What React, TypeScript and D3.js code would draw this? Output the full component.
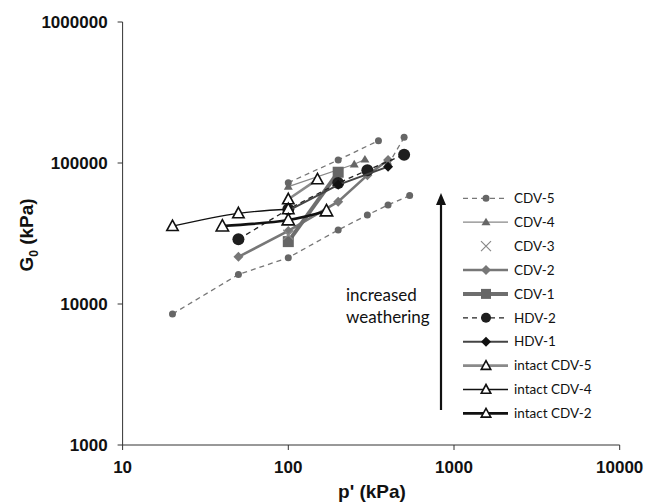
import React from "react";
import * as d3 from "d3";

// ---------- data (p' kPa, G0 kPa) ----------
const cdv5a: [number, number][] = [[20, 8500], [50, 16200], [100, 21300], [200, 33500], [300, 42800], [400, 50400], [540, 58700]];
const cdv5b: [number, number][] = [[100, 72500], [200, 105000], [350, 144000]];
const cdv5c: [number, number][] = [[400, 97000], [500, 152000]];
const cdv4: [number, number][] = [[100, 68000], [250, 98000], [290, 106000]];
const cdv3: [number, number][] = [[100, 31000]];
const cdv2: [number, number][] = [[50, 21600], [100, 33000], [200, 53200], [300, 82000], [400, 105000]];
const cdv1: [number, number][] = [[100, 27700], [200, 86000]];
const hdv2: [number, number][] = [[50, 28800], [100, 47000], [200, 72000], [300, 89000], [500, 114500]];
const hdv1: [number, number][] = [[100, 46000], [200, 70000], [400, 94200]];
const intactCdv5: [number, number][] = [[100, 55300], [150, 76600]];
const intactCdv4: [number, number][] = [[20, 35700], [50, 44000], [100, 47000]];
const intactCdv2: [number, number][] = [[40, 35700], [100, 39400], [170, 45700]];

const xTicks = [10, 100, 1000, 10000];
const yTicks = [1000, 10000, 100000, 1000000];
const legendLabels = ["CDV-5", "CDV-4", "CDV-3", "CDV-2", "CDV-1", "HDV-2", "HDV-1", "intact CDV-5", "intact CDV-4", "intact CDV-2"];

type Style = {
  stroke: string; width: number; dash?: string; marker: string; mfill: string; mstroke?: string; msize: number; smooth?: boolean; noLine?: boolean;
};

const styles: Record<string, Style> = {
  "CDV-5": { stroke: "#777", width: 1.3, dash: "5,4", marker: "circle", mfill: "#666", msize: 3.5 },
  "CDV-4": { stroke: "#888", width: 1.2, marker: "triangle", mfill: "#666", msize: 4.5 },
  "CDV-3": { stroke: "none", width: 0, marker: "x", mfill: "none", mstroke: "#888", msize: 5, noLine: true },
  "CDV-2": { stroke: "#777", width: 2.6, marker: "diamond", mfill: "#777", msize: 5 },
  "CDV-1": { stroke: "#6e6e6e", width: 4, marker: "square", mfill: "#666", msize: 5.5 },
  "HDV-2": { stroke: "#222", width: 1.3, dash: "5,4", marker: "circle", mfill: "#1e1e1e", msize: 6 },
  "HDV-1": { stroke: "#444", width: 2, marker: "diamond", mfill: "#111", msize: 5 },
  "intact CDV-5": { stroke: "#8a8a8a", width: 2.6, marker: "otri", mfill: "#fff", mstroke: "#111", msize: 6, smooth: true },
  "intact CDV-4": { stroke: "#111", width: 1.3, marker: "otri", mfill: "#fff", mstroke: "#111", msize: 6, smooth: true },
  "intact CDV-2": { stroke: "#111", width: 2.6, marker: "otri", mfill: "#fff", mstroke: "#111", msize: 6.5, smooth: true },
};

const seriesList: { name: string; data: [number, number][] }[] = [
  { name: "CDV-5", data: cdv5a },
  { name: "CDV-5", data: cdv5b },
  { name: "CDV-5", data: cdv5c },
  { name: "CDV-4", data: cdv4 },
  { name: "CDV-3", data: cdv3 },
  { name: "CDV-2", data: cdv2 },
  { name: "CDV-1", data: cdv1 },
  { name: "HDV-2", data: hdv2 },
  { name: "HDV-1", data: hdv1 },
  { name: "intact CDV-5", data: intactCdv5 },
  { name: "intact CDV-4", data: intactCdv4 },
  { name: "intact CDV-2", data: intactCdv2 },
];

const W = 648, H = 504;
const x = d3.scaleLog().domain([10, 10000]).range([122.6, 619.7]);
const y = d3.scaleLog().domain([1000, 1000000]).range([445, 22]);

function Marker({ kind, cx, cy, s }: { kind: string; cx: number; cy: number; s: Style }) {
  const r = s.msize;
  if (kind === "circle") return <circle cx={cx} cy={cy} r={r} fill={s.mfill} />;
  if (kind === "square") return <rect x={cx - r} y={cy - r} width={2 * r} height={2 * r} fill={s.mfill} />;
  if (kind === "diamond")
    return <path d={`M${cx},${cy - r}L${cx + r},${cy}L${cx},${cy + r}L${cx - r},${cy}Z`} fill={s.mfill} />;
  if (kind === "triangle")
    return <path d={`M${cx},${cy - r}L${cx + r},${cy + r * 0.7}L${cx - r},${cy + r * 0.7}Z`} fill={s.mfill} />;
  if (kind === "otri")
    return (
      <path
        d={`M${cx},${cy - r}L${cx + r * 0.95},${cy + r * 0.75}L${cx - r * 0.95},${cy + r * 0.75}Z`}
        fill={s.mfill}
        stroke={s.mstroke}
        strokeWidth={1.6}
        strokeLinejoin="miter"
      />
    );
  if (kind === "x")
    return (
      <path
        d={`M${cx - r},${cy - r}L${cx + r},${cy + r}M${cx - r},${cy + r}L${cx + r},${cy - r}`}
        stroke={s.mstroke}
        strokeWidth={1.2}
        fill="none"
      />
    );
  return null;
}

export default function App() {
  const lineStraight = d3.line<[number, number]>().x((d) => x(d[0])).y((d) => y(d[1]));
  const lineSmooth = d3
    .line<[number, number]>()
    .x((d) => x(d[0]))
    .y((d) => y(d[1]))
    .curve(d3.curveCatmullRom.alpha(0.5));

  const legendX0 = 463, legendX1 = 508, legendMX = 486, legendTX = 514;
  const legendY0 = 198.3, legendDY = 23.9;

  const axisFont = "'Liberation Sans', Arial, sans-serif";
  const textFont = "Lato, 'Open Sans', sans-serif";

  return (
    <div style={{ position: "absolute", left: 0, top: 0 }}>
      <svg width={W} height={H} style={{ display: "block", background: "#fff" }}>
        {/* axes */}
        <line x1={x(10)} x2={x(10)} y1={y(1000000)} y2={y(1000)} stroke="#333" strokeWidth={1} />
        <line x1={x(10)} x2={x(10000)} y1={y(1000)} y2={y(1000)} stroke="#333" strokeWidth={1} />
        {yTicks.map((t) => (
          <g key={"yt" + t}>
            <line x1={x(10) - 5} x2={x(10)} y1={y(t)} y2={y(t)} stroke="#333" />
            <text
              x={x(10) - 15}
              y={y(t)}
              dy="0.36em"
              textAnchor="end"
              fontFamily={axisFont}
              fontWeight="bold"
              fontSize={17}
              fill="#111"
            >
              {String(t)}
            </text>
          </g>
        ))}
        {xTicks.map((t) => (
          <g key={"xt" + t}>
            <line x1={x(t)} x2={x(t)} y1={y(1000)} y2={y(1000) + 5} stroke="#333" />
            <text
              x={x(t)}
              y={y(1000) + 28}
              textAnchor="middle"
              fontFamily={axisFont}
              fontWeight="bold"
              fontSize={17}
              fill="#111"
            >
              {String(t)}
            </text>
          </g>
        ))}
        <text x={372} y={498} textAnchor="middle" fontFamily={axisFont} fontWeight="bold" fontSize={19} fill="#111">
          p' (kPa)
        </text>
        <text
          transform={`translate(33,235) rotate(-90)`}
          textAnchor="middle"
          fontFamily={axisFont}
          fontWeight="bold"
          fontSize={19}
          fill="#111"
        >
          G<tspan fontSize={12} dy="5">0</tspan>
          <tspan dy="-5"> (kPa)</tspan>
        </text>

        {/* series lines */}
        {seriesList.map((sr, i) => {
          const s = styles[sr.name];
          if (s.noLine || sr.data.length < 2) return null;
          const gen = s.smooth ? lineSmooth : lineStraight;
          return (
            <g key={"s" + i}>
              <path d={gen(sr.data) || ""} fill="none" stroke={s.stroke} strokeWidth={s.width} strokeDasharray={s.dash} />
              {sr.data.map((d, j) => (
                <Marker key={j} kind={s.marker} cx={x(d[0])} cy={y(d[1])} s={s} />
              ))}
            </g>
          );
        })}
        {seriesList.map((sr, i) => {
          const s = styles[sr.name];
          if (!s.noLine) return null;
          return (
            <g key={"m" + i}>
              {sr.data.map((d, j) => (
                <Marker key={j} kind={s.marker} cx={x(d[0])} cy={y(d[1])} s={s} />
              ))}
            </g>
          );
        })}

        {/* annotation arrow */}
        <line x1={441} x2={441} y1={410} y2={202} stroke="#111" strokeWidth={2.2} />
        <path d="M441,193L446,205L436,205Z" fill="#111" />
        <text x={346} y={301} textAnchor="start" fontFamily={textFont} fontSize={17} fill="#111">
          increased
        </text>
        <text x={346} y={323} textAnchor="start" fontFamily={textFont} fontSize={17} fill="#111">
          weathering
        </text>

        {/* legend */}
        {legendLabels.map((lab, i) => {
          const s = styles[lab];
          const ly = legendY0 + i * legendDY;
          return (
            <g key={"lg" + lab}>
              {!s.noLine && (
                <line
                  x1={legendX0}
                  x2={legendX1}
                  y1={ly}
                  y2={ly}
                  stroke={s.stroke}
                  strokeWidth={s.width}
                  strokeDasharray={s.dash}
                />
              )}
              <Marker kind={s.marker} cx={legendMX} cy={ly} s={{ ...s, msize: Math.min(s.msize, 5) }} />
              <text x={legendTX} y={ly} dy="0.35em" fontFamily={textFont} fontSize={13.5} fill="#111">
                {lab}
              </text>
            </g>
          );
        })}
      </svg>
    </div>
  );
}
